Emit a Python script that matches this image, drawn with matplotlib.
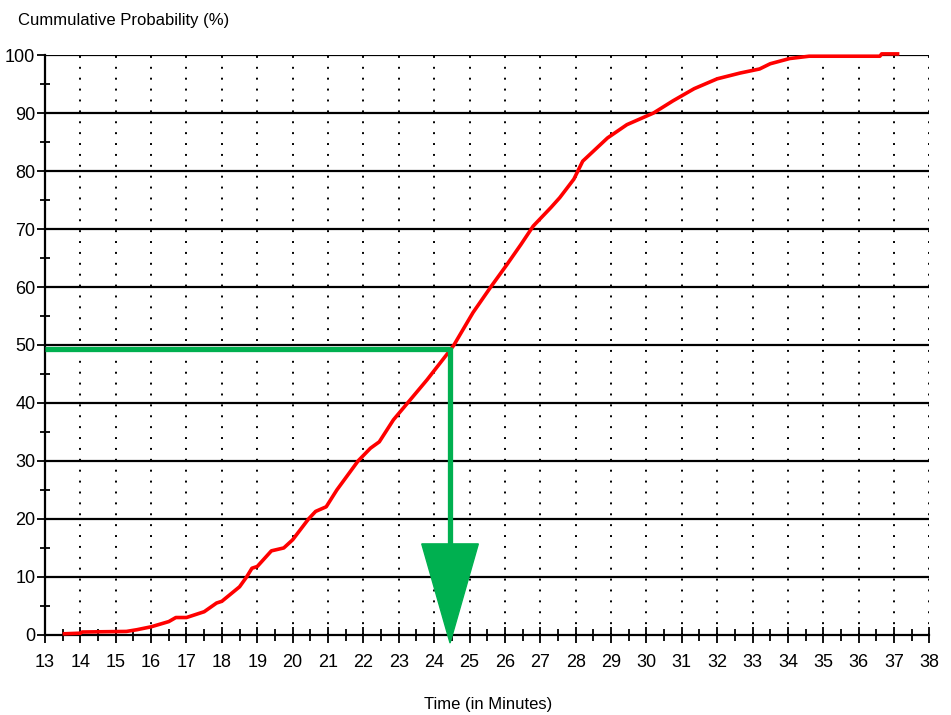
import numpy as np
import matplotlib
matplotlib.use("Agg")
import matplotlib.pyplot as plt
from matplotlib.patches import Polygon

plt.rcParams['font.family'] = ['Liberation Sans', 'DejaVu Sans']

# cumulative probability curve
time_min = [13.55, 14.0, 14.05, 15.3, 15.6, 16.0, 16.5, 16.7, 17.0, 17.5, 17.85,
            18.0, 18.5, 18.7, 18.85, 19.0, 19.4, 19.75, 20.0, 20.45, 20.65, 20.95,
            21.25, 21.85, 22.2, 22.45, 22.85, 23.25, 23.8, 24.35, 24.55, 25.1,
            25.6, 26.05, 26.45, 26.8, 27.3, 27.55, 27.95, 28.2, 28.9, 29.45,
            30.2, 30.75, 31.35, 32.0, 32.65, 33.2, 33.5, 34.05, 34.6, 36.6,
            36.65, 37.1]
cum_prob = [0.2, 0.3, 0.5, 0.6, 0.9, 1.4, 2.3, 3.0, 3.0, 4.0, 5.5,
            5.8, 8.3, 10.0, 11.5, 11.8, 14.5, 15.0, 16.4, 20.0, 21.3, 22.1,
            25.0, 30.0, 32.2, 33.3, 37.1, 40.0, 44.0, 48.3, 49.9, 55.6,
            60.0, 63.8, 67.3, 70.5, 73.7, 75.4, 78.6, 81.7, 85.7, 88.0,
            90.0, 92.1, 94.2, 95.9, 96.9, 97.6, 98.5, 99.4, 99.8, 99.8,
            100.2, 100.2]

median_time = 24.45
median_prob = 49.3

x_ticks = list(range(13, 39))
y_ticks = list(range(0, 101, 10))

fig = plt.figure(figsize=(9.51, 7.15), dpi=100)
ax = fig.add_axes([0.0473, 0.112, 0.93, 0.811])
ax.set_xlim(13, 38)
ax.set_ylim(0, 100)

# grid: solid horizontal, dotted vertical
for y in y_ticks[1:]:
    ax.axhline(y, color='black', lw=1.6, zorder=1)
for x in x_ticks[1:]:
    ax.axvline(x, color='black', lw=1.4, ls=(0, (1, 4.6)), zorder=1)

ax.plot(time_min, cum_prob, color='#ff0000', lw=2.6, zorder=3, clip_on=False)

# median marker
green = '#00b050'
ax.plot([13, median_time], [median_prob, median_prob], color=green, lw=3.8,
        solid_capstyle='butt', zorder=4)
ax.plot([median_time, median_time], [median_prob + 0.4, 15.5], color=green, lw=3.8,
        solid_capstyle='butt', zorder=4)
head = Polygon([[median_time - 0.8, 15.7], [median_time + 0.8, 15.7],
                [median_time, -1.4]], closed=True, color=green, zorder=5,
               clip_on=False)
ax.add_patch(head)

ax.spines['top'].set_visible(False)
ax.spines['right'].set_visible(False)
ax.spines['left'].set_linewidth(1.6)
ax.spines['bottom'].set_linewidth(1.6)

ax.set_xticks(x_ticks)
ax.set_xticks(np.arange(13.5, 38, 1.0), minor=True)
ax.set_yticks(y_ticks)
ax.set_yticks(range(5, 100, 10), minor=True)
ax.tick_params(axis='x', which='major', direction='inout', length=11, width=1.3,
               labelsize=13, pad=8)
ax.tick_params(axis='x', which='minor', direction='inout', length=9, width=1.3)
ax.tick_params(axis='y', which='major', direction='out', length=6, width=1.3,
               labelsize=13, pad=1)
ax.tick_params(axis='y', which='minor', direction='inout', length=7, width=1.3)

fig.text(0.019, 0.972, 'Cummulative Probability (%)', fontsize=12,
         ha='left', va='center')
fig.text(0.513, 0.014, 'Time (in Minutes)', fontsize=12, ha='center', va='center')

fig.savefig('out.png', dpi=100)
